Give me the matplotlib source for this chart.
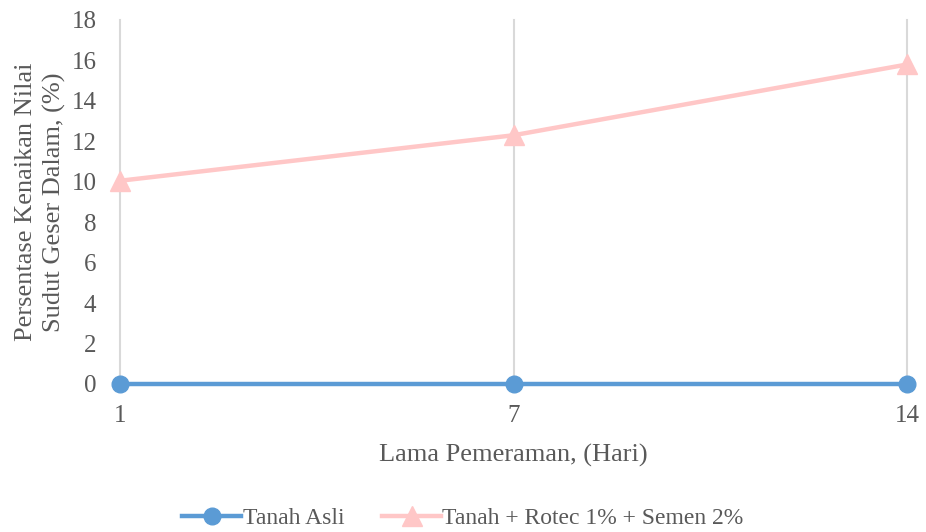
import matplotlib.pyplot as plt

plt.rcParams['font.family'] = ['Liberation Serif', 'DejaVu Serif']

# data
hari = ['1', '7', '14']
tanah_asli = [0, 0, 0]
tanah_rotec = [10.05, 12.3, 15.8]

grey = '#595959'

fig = plt.figure(figsize=(9.26, 5.32), dpi=100)
ax = fig.add_axes([120/926, 1 - 384/532, (907-120)/926, (384-20)/532])

x = range(len(hari))
ax.plot(x, tanah_asli, color='#5B9BD5', lw=3.2, marker='o', ms=12,
        label='Tanah Asli', zorder=3, clip_on=False)
ax.plot(x, tanah_rotec, color='#FFC7C7', lw=3.2, marker='^', ms=15,
        label='Tanah + Rotec 1% + Semen 2%', zorder=3, clip_on=False)

ax.set_xlim(0, len(hari) - 1)
ax.set_ylim(0, 18)
ax.set_yticks(range(0, 19, 2))
ax.set_xticks(list(x))
ax.set_xticklabels(hari)

# garis grid vertikal
ax.grid(axis='x', color='#D9D9D9', lw=1.5)
for gl in ax.get_xgridlines():
    gl.set_clip_on(False)
for s in ['top', 'right', 'left']:
    ax.spines[s].set_visible(False)
ax.spines['bottom'].set_color('#D9D9D9')
ax.tick_params(axis='y', length=0, labelsize=18, colors=grey, pad=17)
ax.tick_params(axis='x', length=0, labelsize=18, colors=grey, pad=15)

ax.set_xlabel('Lama Pemeraman, (Hari)', fontsize=19, color=grey, labelpad=12)
ax.set_ylabel('Persentase Kenaikan Nilai\nSudut Geser Dalam, (%)',
              fontsize=19, color=grey, labelpad=4, linespacing=1.3)

fig.legend(loc='center', bbox_to_anchor=(0.5, 1 - 518/532), ncol=2,
           frameon=False, fontsize=17, handlelength=2.5, columnspacing=1.6,
           handletextpad=0.05, labelcolor=grey)

fig.savefig('out.png', dpi=100)
